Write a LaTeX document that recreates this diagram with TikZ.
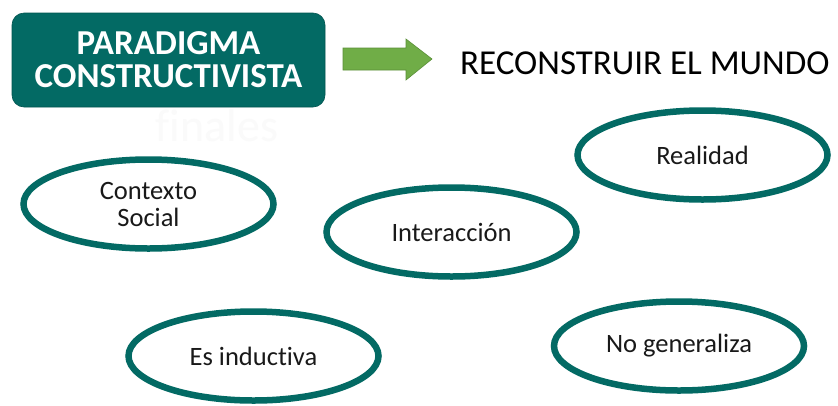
\documentclass[tikz,border=0pt]{standalone}
\usepackage{fontspec}
\setmainfont{Carlito}[Ligatures=CommonOff]
\usetikzlibrary{shapes.geometric}
\definecolor{teal1}{HTML}{036A64}
\definecolor{arrowgreen}{HTML}{70AD47}
\definecolor{arrowedge}{HTML}{5A8F38}
\tikzset{
  oval/.style={ellipse, draw=teal1, line width=6.5pt, fill=white,
    minimum width=250pt, minimum height=89pt, inner sep=0pt,
    font=\fontsize{26.5}{30}\selectfont, text=black!90, align=center},
}
\begin{document}
\begin{tikzpicture}[x=1pt,y=-1pt]
\useasboundingbox[fill=white] (0,0) rectangle (838,405);
% title box
\node[draw=teal1!80!black, line width=0.6pt, fill=teal1, rounded corners=12pt,
  minimum width=313pt, minimum height=94pt, inner sep=0pt,
  text=white, align=center, font=\fontsize{35}{33}\selectfont\bfseries]
  (title) at (168.5,60) {PARADIGMA\\CONSTRUCTIVISTA};
% faint text
\node[text=black!2, font=\fontsize{46}{48}\selectfont] (faint) at (217,126) {finales};
% arrow
\draw[draw=arrowedge, line width=0.6pt, fill=arrowgreen]
  (343,48) -- (406,48) -- (406,39) -- (432,59) -- (406,80) -- (406,70) -- (343,70) -- cycle;
% right text
\node[anchor=west, inner sep=0pt, font=\fontsize{35}{38}\selectfont, text=black]
  (rec) at (460,63) {RECONSTRUIR EL MUNDO};
% ellipses
\node[oval] (ctx) at (148.5,204) {Contexto\\[-3pt]Social};
\node[oval] (int) at (451.5,232) {Interacción};
\node[oval] (real) at (702.5,155) {Realidad};
\node[oval] (ind) at (253.5,356) {Es inductiva};
\node[oval] (nog) at (679,346) {No generaliza};
\end{tikzpicture}
\end{document}
